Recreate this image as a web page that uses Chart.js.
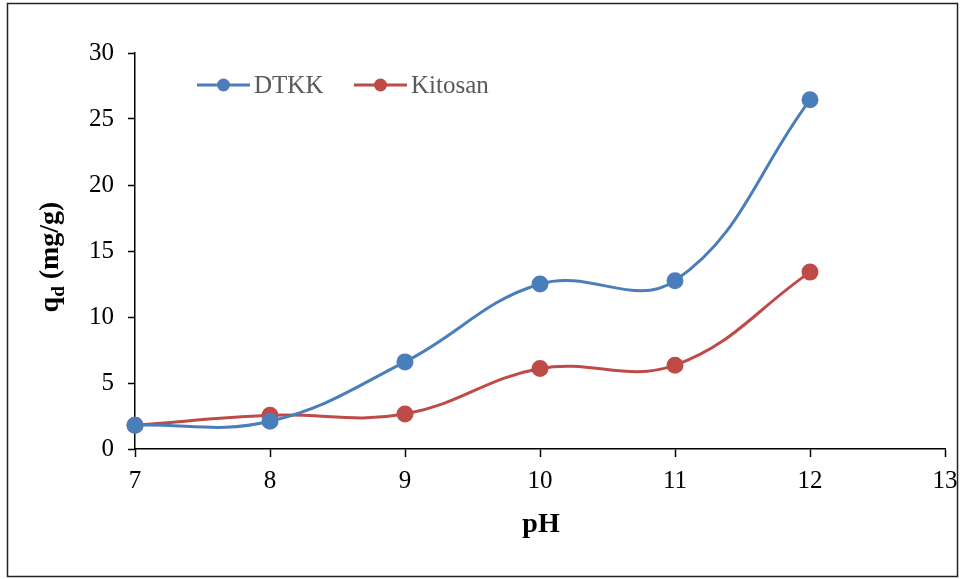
<!DOCTYPE html>
<html>
<head>
<meta charset="utf-8">
<script src="https://cdn.jsdelivr.net/npm/chart.js@4"></script>
<style>
  body { margin: 0; background: #fff; }
  #wrap { width: 964px; height: 579px; }
</style>
</head>
<body>
<div id="wrap"><canvas id="chart" width="964" height="579"></canvas></div>
<script>
const phValues = [7, 8, 9, 10, 11, 12];
const dtkkValues = [1.8, 2.1, 6.6, 12.5, 12.75, 26.45];
const kitosanValues = [1.8, 2.55, 2.65, 6.1, 6.35, 13.4];
const seriesNames = ['DTKK', 'Kitosan'];
const seriesColors = ['#4A7EBB', '#BE4B48'];

const serif = "'Liberation Serif', 'Times New Roman', serif";

function toPoints(ys) {
    return phValues.map((x, i) => ({ x: x, y: ys[i] }));
}

// Frame, axis titles and the legend drawn by hand
const extrasPlugin = {
    id: 'extras',
    afterDraw(chart) {
        const ctx = chart.ctx;
        ctx.save();

        // outer frame
        ctx.strokeStyle = '#222';
        ctx.lineWidth = 1.5;
        ctx.strokeRect(7.5, 3.5, 950, 573);

        // x title
        ctx.fillStyle = '#000';
        ctx.font = 'bold 28px ' + serif;
        ctx.textAlign = 'center';
        ctx.textBaseline = 'alphabetic';
        ctx.fillText('pH', 541, 532);

        // y title with subscript
        ctx.translate(58, 257);
        ctx.rotate(-Math.PI / 2);
        ctx.textAlign = 'left';
        const main1 = 'q';
        const sub = 'd';
        const main2 = ' (mg/g)';
        ctx.font = 'bold 28px ' + serif;
        const w1 = ctx.measureText(main1).width;
        const w3 = ctx.measureText(main2).width;
        ctx.font = 'bold 19px ' + serif;
        const w2 = ctx.measureText(sub).width;
        let x = -(w1 + w2 + w3) / 2;
        ctx.font = 'bold 28px ' + serif;
        ctx.fillText(main1, x, 0);
        x += w1;
        ctx.font = 'bold 19px ' + serif;
        ctx.fillText(sub, x, 6);
        x += w2;
        ctx.font = 'bold 28px ' + serif;
        ctx.fillText(main2, x, 0);
        ctx.restore();

        // legend
        ctx.save();
        const legendX = [197, 354];
        const legendY = 85;
        chart.data.datasets.forEach((ds, i) => {
            const lx = legendX[i];
            ctx.strokeStyle = ds.borderColor;
            ctx.lineWidth = 3;
            ctx.beginPath();
            ctx.moveTo(lx, legendY);
            ctx.lineTo(lx + 53, legendY);
            ctx.stroke();
            ctx.fillStyle = ds.backgroundColor;
            ctx.beginPath();
            ctx.arc(lx + 26.5, legendY, 6.5, 0, Math.PI * 2);
            ctx.fill();
            ctx.fillStyle = '#595959';
            ctx.font = '25px ' + serif;
            ctx.textAlign = 'left';
            ctx.textBaseline = 'middle';
            ctx.fillText(ds.label, lx + 57, legendY + 1);
        });
        ctx.restore();
    }
};

new Chart(document.getElementById('chart'), {
    type: 'line',
    data: {
        datasets: [
            {
                label: seriesNames[0],
                data: toPoints(dtkkValues),
                borderColor: seriesColors[0],
                backgroundColor: seriesColors[0],
                borderWidth: 3,
                pointRadius: 7,
                pointHoverRadius: 7,
                tension: 0.4,
                clip: false
            },
            {
                label: seriesNames[1],
                data: toPoints(kitosanValues),
                borderColor: seriesColors[1],
                backgroundColor: seriesColors[1],
                borderWidth: 3,
                pointRadius: 7,
                pointHoverRadius: 7,
                tension: 0.4,
                clip: false
            }
        ]
    },
    options: {
        responsive: false,
        animation: false,
        layout: { padding: { left: 0, top: 53, right: 19, bottom: 0 } },
        plugins: {
            legend: { display: false },
            tooltip: { enabled: false }
        },
        scales: {
            x: {
                type: 'linear',
                min: 7,
                max: 13,
                ticks: {
                    stepSize: 1,
                    color: '#000',
                    font: { family: serif, size: 25 },
                    padding: 9
                },
                grid: {
                    drawOnChartArea: false,
                    color: '#000',
                    tickLength: 8,
                    tickWidth: 1.5
                },
                border: { color: '#000', width: 1.5 },
                afterFit(scale) {
                    scale.height = 130;
                    scale.paddingRight = 0;
                }
            },
            y: {
                min: 0,
                max: 30,
                ticks: {
                    stepSize: 5,
                    color: '#000',
                    font: { family: serif, size: 25 },
                    padding: 14
                },
                grid: {
                    drawOnChartArea: false,
                    color: '#000',
                    tickLength: 7,
                    tickWidth: 1.5
                },
                border: { color: '#000', width: 1.5 },
                afterFit(scale) {
                    scale.width = 135;
                    scale.paddingTop = 0;
                }
            }
        }
    },
    plugins: [extrasPlugin]
});
</script>
</body>
</html>
